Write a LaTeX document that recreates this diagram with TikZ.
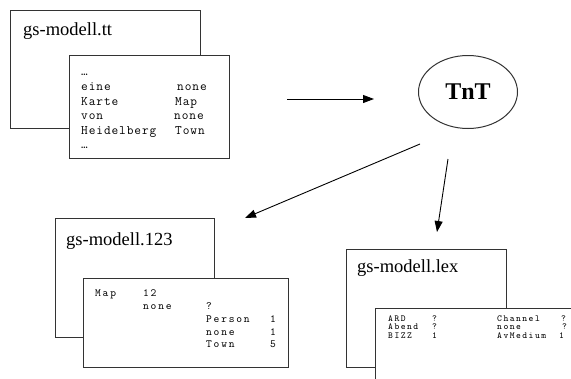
\documentclass[tikz,border=0pt]{standalone}
\usepackage{fontspec}
\setmainfont{Liberation Serif}
\newfontfamily\monoA[LetterSpace=7]{Latin Modern Mono}
\newfontfamily\monoB[LetterSpace=16]{Latin Modern Mono}
\usetikzlibrary{shapes.geometric,arrows.meta}
\begin{document}
\begin{tikzpicture}[x=1pt,y=-1pt,
  filebox/.style={draw=black!80,line width=1.3pt,fill=white,rectangle,inner sep=0pt,anchor=north west},
  title/.style={anchor=base west,inner sep=0pt,font=\fontsize{18.5}{20}\selectfont},
  ttxt/.style={anchor=base west,inner sep=0pt,font=\monoA\fontsize{13}{14}\selectfont},
  ctxt/.style={anchor=base west,inner sep=0pt,font=\monoB\fontsize{11}{12}\selectfont},
  ltxt/.style={anchor=base west,inner sep=0pt,font=\monoB\fontsize{9.2}{10}\selectfont},
  flow/.style={draw=black,line width=0.9pt,-{Triangle[length=11pt,width=8pt]}}]
\useasboundingbox (0,0) rectangle (571,378);
\clip (0,0) rectangle (571,378);
% box 1
\node[filebox,minimum width=190pt,minimum height=118pt] (ttout) at (10,10) {};
\node[title] (tttitle) at (23,35) {gs-modell.tt};
\node[filebox,minimum width=160pt,minimum height=103pt] (ttin) at (69,55) {};
\node[ttxt] (t0) at (81,75) {\ldots};
\node[ttxt] (t1a) at (81,90.5) {eine};
\node[ttxt] (t1b) at (177,90.5) {none};
\node[ttxt] (t2a) at (81,105) {Karte};
\node[ttxt] (t2b) at (175,105) {Map};
\node[ttxt] (t3a) at (81,119.5) {von};
\node[ttxt] (t3b) at (174,119.5) {none};
\node[ttxt] (t4a) at (81,134) {Heidelberg};
\node[ttxt] (t4b) at (175,134) {Town};
\node[ttxt] (t5) at (81,148) {\ldots};
% TnT
\node[draw=black!80,line width=1pt,ellipse,minimum width=99pt,minimum height=73pt,inner sep=0pt,
      font=\bfseries\fontsize{24}{26}\selectfont] (tnt) at (468,92) {TnT};
% box 2
\node[filebox,minimum width=159pt,minimum height=119pt] (cout) at (55,218) {};
\node[title] (ctitle) at (66,245) {gs-modell.123};
\node[filebox,minimum width=205pt,minimum height=89pt] (cin) at (83,278) {};
\node[ctxt] (c1) at (95,296) {Map};
\node[ctxt] (c2) at (143,296) {12};
\node[ctxt] (c3) at (143,309) {none};
\node[ctxt] (c4) at (206,309) {?};
\node[ctxt] (c5) at (206,322) {Person};
\node[ctxt] (c6) at (270,322) {1};
\node[ctxt] (c7) at (206,335) {none};
\node[ctxt] (c8) at (270,335) {1};
\node[ctxt] (c9) at (206,347) {Town};
\node[ctxt] (c10) at (270,347) {5};
% box 3
\node[filebox,minimum width=160pt,minimum height=118pt] (lout) at (346,249) {};
\node[title] (ltitle) at (357,272.5) {gs-modell.lex};
\node[filebox,minimum width=210pt,minimum height=85pt] (lin) at (375,308) {};
\node[ltxt] (l1) at (388,321) {ARD};
\node[ltxt] (l2) at (432,321) {?};
\node[ltxt] (l3) at (497,321) {Channel};
\node[ltxt] (l4) at (561,321) {?};
\node[ltxt] (l5) at (388,329.5) {Abend};
\node[ltxt] (l6) at (432,329.5) {?};
\node[ltxt] (l7) at (497,329.5) {none};
\node[ltxt] (l8) at (562,329.5) {?};
\node[ltxt] (l9) at (388,338) {BIZZ};
\node[ltxt] (l10) at (432,338) {1};
\node[ltxt] (l11) at (497,338) {AvMedium};
\node[ltxt] (l12) at (559,338) {1};
% arrows
\coordinate (a1s) at (287,99);
\coordinate (a1e) at (374,99);
\coordinate (a2s) at (420,144);
\coordinate (a2e) at (245,218);
\coordinate (a3s) at (448,159);
\coordinate (a3e) at (437,232);
\draw[flow] (a1s) -- (a1e);
\draw[flow] (a2s) -- (a2e);
\draw[flow] (a3s) -- (a3e);
\end{tikzpicture}
\end{document}
